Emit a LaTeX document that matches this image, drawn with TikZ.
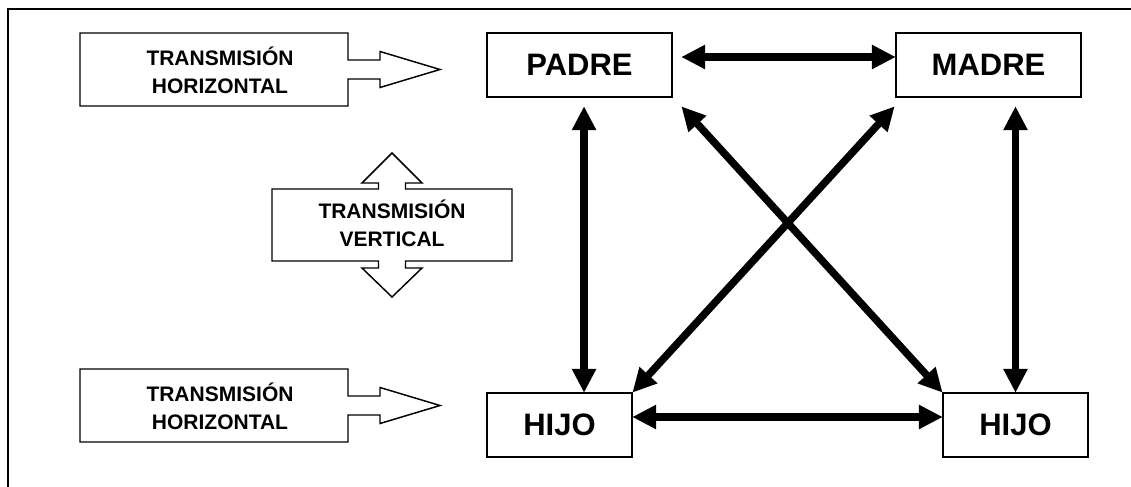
\documentclass[tikz,border=0pt]{standalone}
\usepackage{fontspec}
\setmainfont{Liberation Sans}
\usetikzlibrary{arrows.meta}
\begin{document}
\begin{tikzpicture}[x=0.75pt,y=-0.75pt,
  kin/.style={draw, line width=1.1pt, inner sep=0pt, minimum height=48pt,
    font=\fontsize{23.25}{28}\selectfont\bfseries},
  calloutshape/.style={draw, line width=1.1pt, line join=miter},
  callouttext/.style={align=center, inner sep=0pt,
    font=\fontsize{15.75}{21}\selectfont\bfseries},
  dbl/.style={line width=5.6pt, {Triangle[length=17.5pt,width=18.5pt,line width=0pt]}-{Triangle[length=17.5pt,width=18.5pt,line width=0pt]}}
]
\path[use as bounding box, clip] (0,0) rectangle (1131,486);
% outer frame (cut by the page)
\draw[line width=1.5pt] (8,500) -- (8,9) -- (1145,9);

% family nodes
\node[kin, minimum width=138.75pt] (padre) at (579.5,65) {PADRE};
\node[kin, minimum width=138.75pt] (madre) at (988.5,65) {MADRE};
\node[kin, minimum width=108.75pt] (hijoa) at (559.5,425) {HIJO};
\node[kin, minimum width=108.75pt] (hijob) at (1015.5,425) {HIJO};

% connectors
\draw[dbl, shorten <=6.75pt] ([yshift=6pt]padre.east) -- ([yshift=6pt]madre.west);
\draw[dbl] ([yshift=6pt]hijoa.east) -- ([yshift=6pt]hijob.west);
\draw[dbl, shorten <=6.75pt] ([xshift=3.4pt]padre.south) -- ([xshift=3.4pt]padre.south |- hijoa.north);
\draw[dbl, shorten <=6.75pt] (madre.south -| hijob.north) -- (hijob.north);
\draw[dbl] ([xshift=6.75pt,yshift=-6.75pt]padre.south east) -- (hijob.north west);
\draw[dbl] ([xshift=-0.75pt,yshift=-6.75pt]madre.south west) -- (hijoa.north east);

% callout: horizontal transmission (top)
\draw[calloutshape] (80,33) -- (348,33) -- (348,60) -- (380,60) -- (380,51.5)
  -- (440,69.5) -- (380,87.5) -- (380,79) -- (348,79) -- (348,106) -- (80,106) -- cycle;
\node[callouttext] (hta) at (220,70) {TRANSMISIÓN\\HORIZONTAL};

% callout: horizontal transmission (bottom)
\draw[calloutshape] (80,369) -- (348,369) -- (348,396) -- (380,396) -- (380,387.5)
  -- (440,405.5) -- (380,423.5) -- (380,415) -- (348,415) -- (348,442) -- (80,442) -- cycle;
\node[callouttext] (htb) at (220,406) {TRANSMISIÓN\\HORIZONTAL};

% callout: vertical transmission
\draw[calloutshape] (272,189) -- (378.5,189) -- (378.5,183) -- (362,183) -- (392,153)
  -- (422,183) -- (405.5,183) -- (405.5,189) -- (512,189) -- (512,261) -- (405.5,261)
  -- (405.5,268) -- (422,268) -- (392,297) -- (362,268) -- (378.5,268) -- (378.5,261)
  -- (272,261) -- cycle;
\node[callouttext] (vt) at (392,223) {TRANSMISIÓN\\VERTICAL};
\end{tikzpicture}
\end{document}
